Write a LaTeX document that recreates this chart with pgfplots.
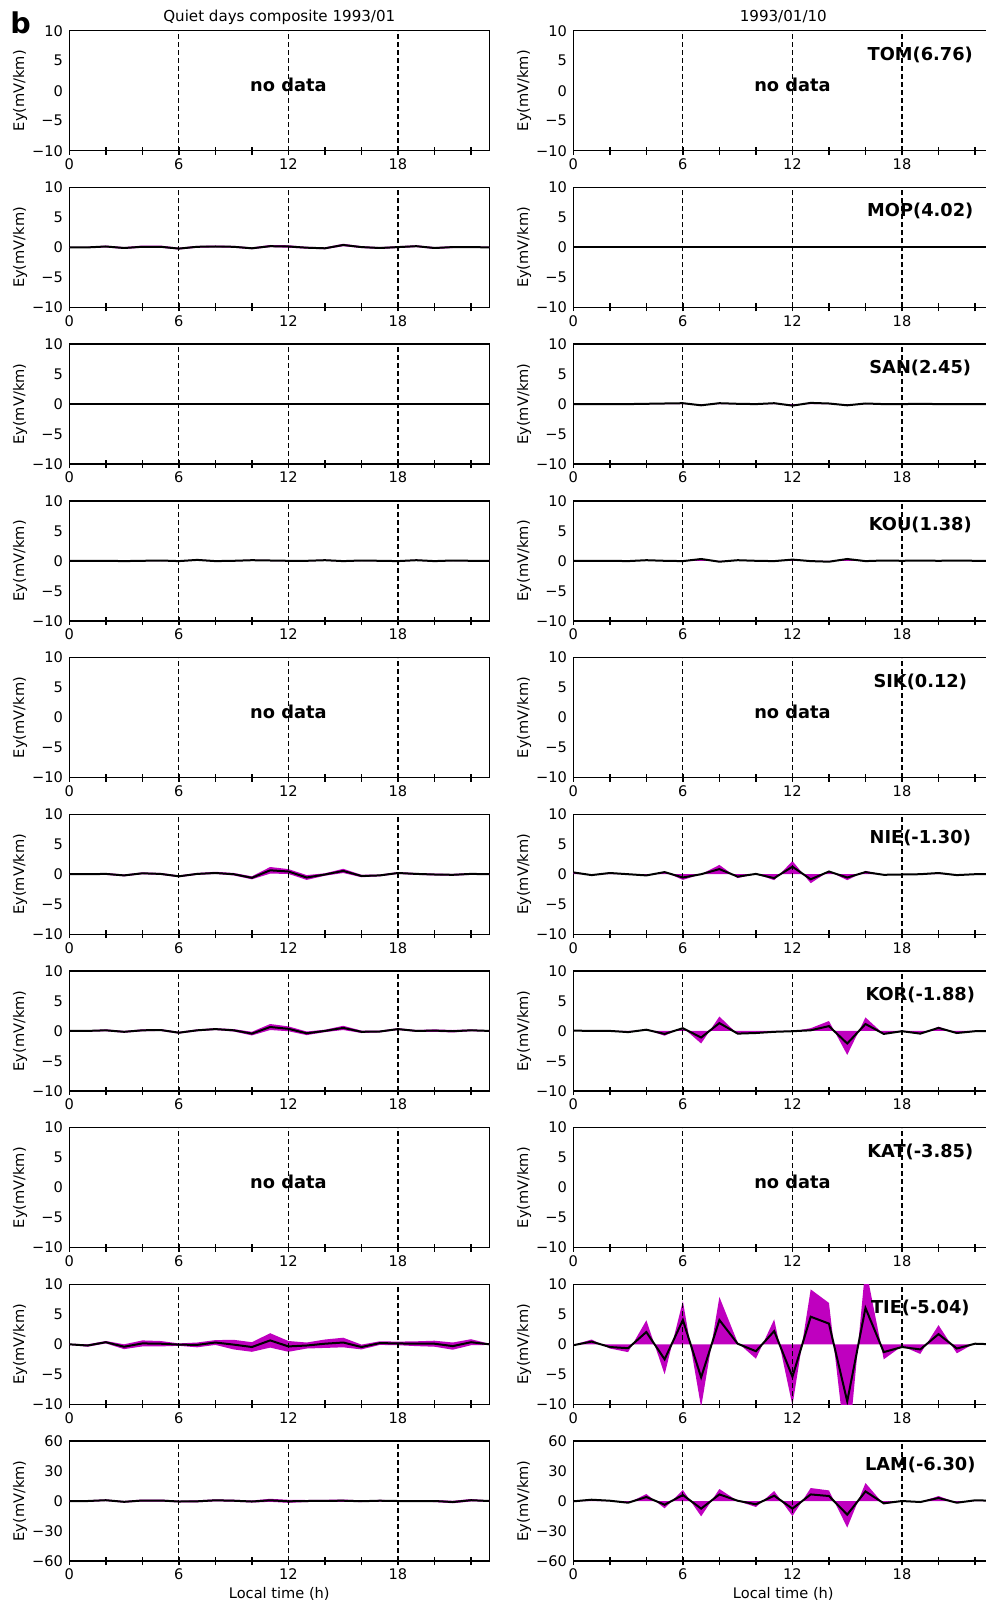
\documentclass[border=0pt]{standalone}
\usepackage{fontspec}
\setmainfont{DejaVu Sans}
\usepackage{pgfplots}
\pgfplotsset{compat=1.18}
\usepackage{pgfplotstable}
\usepgfplotslibrary{fillbetween}
\definecolor{mag}{RGB}{191,0,191}
\newcommand{\tfs}{\fontsize{7.3}{8.5}\selectfont}
\newcommand{\ttls}{\fontsize{7.55}{8.5}\selectfont}
\newcommand{\bfs}{\bfseries\fontsize{8.9}{10}\selectfont}
\tikzset{vline/.style={black, line width=0.6pt, dash pattern=on 2.5pt off 1.5pt}}

% ---------- left column: composite (h, mean, lower, upper) ----------
\pgfplotstableread{
h m lo hi
0 0 -0.1 0.1
1 0 -0.1 0.1
2 0.15 0.0 0.3
3 -0.1 -0.25 0.05
4 0.1 -0.05 0.3
5 0.1 -0.05 0.3
6 -0.2 -0.35 -0.05
7 0.1 -0.05 0.25
8 0.15 0.0 0.3
9 0.1 -0.05 0.25
10 -0.15 -0.3 0.0
11 0.2 0.05 0.4
12 0.15 -0.05 0.35
13 -0.05 -0.2 0.1
14 -0.15 -0.3 0.0
15 0.4 0.2 0.6
16 0.05 -0.1 0.2
17 -0.1 -0.25 0.05
18 0.05 -0.1 0.2
19 0.2 0.05 0.35
20 -0.1 -0.25 0.05
21 0.05 -0.1 0.2
22 0.05 -0.1 0.2
23 0 -0.1 0.1
}\LMOP
\pgfplotstableread{
h m lo hi
0 0 0 0
1 0 0 0
2 0 0 0
3 0 0 0
4 0 0 0
5 0 0 0
6 0 0 0
7 0 0 0
8 0 0 0
9 0 0 0
10 0 0 0
11 0 0 0
12 0 0 0
13 0 0 0
14 0 0 0
15 0 0 0
16 0 0 0
17 0 0 0
18 0 0 0
19 0 0 0
20 0 0 0
21 0 0 0
22 0 0 0
23 0 0 0
}\LSAN
\pgfplotstableread{
h m lo hi
0 0 -0.08 0.08
1 0 -0.08 0.08
2 0 -0.08 0.08
3 -0.05 -0.13 0.03
4 0 -0.08 0.08
5 0.05 -0.03 0.13
6 -0.05 -0.13 0.03
7 0.15 0.07 0.23
8 -0.05 -0.13 0.03
9 0 -0.08 0.08
10 0.1 0.02 0.18
11 0.05 -0.03 0.13
12 0 -0.08 0.08
13 0 -0.08 0.08
14 0.1 0.02 0.18
15 -0.05 -0.13 0.03
16 0.05 -0.03 0.13
17 0 -0.08 0.08
18 -0.05 -0.13 0.03
19 0.1 0.02 0.18
20 -0.05 -0.13 0.03
21 0.05 -0.03 0.13
22 0 -0.08 0.08
23 0 -0.08 0.08
}\LKOU
\pgfplotstableread{
h m lo hi
0 0 -0.1 0.1
1 0 -0.1 0.1
2 0.05 -0.1 0.2
3 -0.2 -0.35 -0.05
4 0.15 0 0.3
5 0.05 -0.1 0.2
6 -0.35 -0.5 -0.2
7 0.05 -0.1 0.2
8 0.2 0.05 0.4
9 0 -0.2 0.2
10 -0.6 -0.85 -0.35
11 0.65 0.1 1.2
12 0.45 0.05 0.85
13 -0.55 -0.95 -0.15
14 -0.05 -0.25 0.15
15 0.55 0.2 0.9
16 -0.3 -0.5 -0.1
17 -0.2 -0.35 -0.05
18 0.2 0.05 0.35
19 0.05 -0.1 0.2
20 -0.05 -0.2 0.1
21 -0.1 -0.25 0.05
22 0.05 -0.1 0.2
23 0 -0.1 0.1
}\LNIE
\pgfplotstableread{
h m lo hi
0 0 -0.1 0.1
1 0 -0.1 0.1
2 0.1 -0.05 0.25
3 -0.15 -0.3 0
4 0.1 -0.05 0.25
5 0.15 0 0.3
6 -0.3 -0.45 -0.15
7 0.1 -0.05 0.25
8 0.3 0.15 0.45
9 0.1 -0.1 0.3
10 -0.45 -0.75 -0.15
11 0.65 0.15 1.15
12 0.35 -0.05 0.75
13 -0.4 -0.7 -0.1
14 0 -0.2 0.2
15 0.5 0.15 0.85
16 -0.15 -0.35 0.05
17 -0.1 -0.25 0.05
18 0.3 0.15 0.45
19 0 -0.15 0.15
20 0.05 -0.15 0.25
21 -0.05 -0.25 0.15
22 0.1 -0.05 0.25
23 0 -0.1 0.1
}\LKOR
\pgfplotstableread{
h m lo hi
0 0 -0.1 0.1
1 -0.2 -0.4 0
2 0.35 0.15 0.55
3 -0.4 -0.8 0
4 0.15 -0.35 0.65
5 0.1 -0.35 0.55
6 -0.05 -0.25 0.15
7 -0.1 -0.5 0.3
8 0.3 -0.1 0.7
9 -0.05 -0.85 0.75
10 -0.45 -1.25 0.35
11 0.65 -0.55 1.85
12 -0.35 -1.25 0.55
13 -0.2 -0.7 0.3
14 0.1 -0.6 0.8
15 0.3 -0.5 1.1
16 -0.45 -0.85 -0.05
17 0.2 -0.1 0.5
18 0.15 -0.15 0.45
19 0.1 -0.3 0.5
20 0.1 -0.4 0.6
21 -0.3 -0.9 0.3
22 0.35 -0.15 0.85
23 0 -0.1 0.1
}\LTIE
\pgfplotstableread{
h m lo hi
0 0 -0.8 0.8
1 0 -0.8 0.8
2 0.8 0 1.6
3 -0.8 -1.6 0
4 0.5 -0.5 1.5
5 0.5 -0.5 1.5
6 -0.5 -1.3 0.3
7 -0.3 -1.3 0.7
8 0.7 -0.3 1.7
9 0.3 -0.7 1.3
10 -0.5 -1.5 0.5
11 0.7 -0.8 2.2
12 -0.3 -1.8 1.2
13 0 -1 1
14 0.2 -0.8 1.2
15 0.3 -0.9 1.5
16 -0.2 -1 0.6
17 0.3 -0.5 1.1
18 0 -0.8 0.8
19 0 -0.8 0.8
20 0 -1 1
21 -1 -2.2 0.2
22 0.8 -0.4 2
23 0 -0.6 0.6
}\LLAM

% ---------- right column: 1993/01/10 (h, Ey line, magenta fill) ----------
\pgfplotstableread{
h e f
0 0 0
1 0 0
2 0 0
3 0 0
4 0 0
5 0 0
6 0 0
7 0 0
8 0 0
9 0 0
10 0 0
11 0 0
12 0 0
13 0 0
14 0 0
15 0 0
16 0 0
17 0 0
18 0 0
19 0 0
20 0 0
21 0 0
22 0 0
23 0 0
}\RMOP
\pgfplotstableread{
h e f
0 0 0
1 0 0
2 0 0
3 0 0
4 0.05 0.05
5 0.1 0.1
6 0.15 0.2
7 -0.2 -0.25
8 0.15 0.2
9 0.05 0.05
10 0 0
11 0.15 0.2
12 -0.25 -0.35
13 0.2 0.3
14 0.1 0.1
15 -0.2 -0.25
16 0.1 0.15
17 0 0
18 0 0
19 0.05 0.05
20 0 0
21 0 0
22 0 0
23 0 0
}\RSAN
\pgfplotstableread{
h e f
0 0 0
1 0 0
2 0 0
3 -0.05 -0.05
4 0.1 0.1
5 0 0
6 -0.05 -0.05
7 0.3 0.35
8 -0.15 -0.2
9 0.1 0.1
10 0 0
11 -0.05 -0.05
12 0.2 0.25
13 -0.05 -0.05
14 -0.15 -0.2
15 0.3 0.35
16 -0.05 -0.05
17 0.05 0.05
18 0 0
19 0.05 0.05
20 0 0
21 0.05 0.05
22 0 0
23 0 0
}\RKOU
\pgfplotstableread{
h e f
0 0.3 0.3
1 -0.15 -0.15
2 0.2 0.2
3 0 0
4 -0.2 -0.2
5 0.35 0.4
6 -0.55 -0.95
7 0 0
8 0.85 1.55
9 -0.4 -0.65
10 0.05 0.05
11 -0.65 -1.0
12 1.25 2.2
13 -0.85 -1.5
14 0.45 0.5
15 -0.55 -1.0
16 0.35 0.55
17 -0.1 -0.1
18 -0.05 -0.05
19 0 0
20 0.2 0.2
21 -0.15 -0.15
22 0 0
23 0.05 0.05
}\RNIE
\pgfplotstableread{
h e f
0 0.05 0.05
1 0 0
2 0 0
3 -0.2 -0.2
4 0.2 0.2
5 -0.5 -0.8
6 0.45 0.55
7 -1.1 -2.1
8 1.3 2.4
9 -0.45 -0.55
10 -0.35 -0.4
11 -0.15 -0.15
12 -0.05 -0.05
13 0.1 0.45
14 0.8 1.65
15 -2.1 -4.0
16 1.15 2.25
17 -0.5 -0.55
18 -0.05 -0.05
19 -0.45 -0.55
20 0.5 0.7
21 -0.35 -0.35
22 -0.05 -0.05
23 0 0
}\RKOR
\pgfplotstableread{
h e f
0 -0.15 -0.1
1 0.45 0.8
2 -0.45 -0.7
3 -0.65 -1.3
4 2.05 4.0
5 -2.5 -5.0
6 4.05 7.2
7 -5.5 -10.5
8 4.05 7.9
9 0.1 0.3
10 -1.15 -2.4
11 2.2 4.15
12 -5.4 -10.2
13 4.6 9.15
14 3.45 6.9
15 -9.5 -19.5
16 6.05 13
17 -1.3 -2.5
18 -0.45 -0.3
19 -0.85 -1.6
20 1.7 3.2
21 -0.7 -1.5
22 0.1 0.2
23 0 0
}\RTIE
\pgfplotstableread{
h e f
0 -0.3 -0.3
1 1.3 1.5
2 0.3 0.5
3 -1.7 -2
4 4.0 7
5 -3.7 -7.3
6 6.0 11
7 -7.6 -15.3
8 6.6 12
9 0.3 0
10 -3.3 -6
11 5.3 10
12 -7.6 -15
13 6.6 13
14 5.0 10.6
15 -13.6 -26.6
16 9.6 18
17 -2.3 -3.3
18 0 0
19 -1.0 -1
20 3.0 5
21 -1.7 -1.7
22 0.7 0.5
23 0.3 0.3
}\RLAM

\pgfplotsset{
  panel/.style={
    scale only axis, width=210pt, height=60pt,
    anchor=north west,
    xmin=0, xmax=23, ymin=-10, ymax=10,
    xtick={0,2,...,22}, xticklabels={0,,,6,,,12,,,18,,},
    ytick={-10,-5,0,5,10}, yticklabels={−10,−5,0,5,10},
    xtick pos=bottom, ytick pos=left,
    xtick align=center, major tick length=4pt,
    ytick style={draw=none},
    xtick style={black, line width=0.7pt},
    axis line style={black, line width=0.7pt},
    tick label style={font=\tfs, inner sep=0pt},
    xticklabel style={anchor=north, yshift=-1.8pt},
    yticklabel style={anchor=east, xshift=-3pt},
    ylabel={Ey(mV/km)},
    every axis y label/.style={at={(axis description cs:-0.117,0.5)}, rotate=90, anchor=center, font=\tfs},
    every axis x label/.style={at={(axis description cs:0.5,0)}, anchor=center, yshift=-16.4pt, font=\tfs},
    every axis title/.style={at={(axis description cs:0.5,1)}, anchor=center, yshift=6.85pt, font=\ttls},
  },
  big/.style={ymin=-60, ymax=60, ytick={-60,-30,0,30,60}, yticklabels={−60,−30,0,30,60}},
  dline/.style={black, line width=1pt},
}

\newcommand{\vlns}{%
  \draw[vline] ({axis cs:6,0}|-{rel axis cs:0,0}) -- ({axis cs:6,0}|-{rel axis cs:0,1});
  \draw[vline] ({axis cs:12,0}|-{rel axis cs:0,0}) -- ({axis cs:12,0}|-{rel axis cs:0,1});
  \draw[vline] ({axis cs:18,0}|-{rel axis cs:0,0}) -- ({axis cs:18,0}|-{rel axis cs:0,1});
}
% left composite panel
\newcommand{\bandp}[1]{%
  \addplot[name path=up, draw=none, forget plot] table[x=h,y=hi]{#1};
  \addplot[name path=dn, draw=none, forget plot] table[x=h,y=lo]{#1};
  \addplot[fill=mag, draw=none] fill between[of=up and dn];
  \addplot[dline] table[x=h,y=m]{#1};
}
% right day panel
\newcommand{\dayp}[1]{%
  \addplot[fill=mag, draw=none] table[x=h,y=f]{#1} \closedcycle;
  \addplot[dline] table[x=h,y=e]{#1};
}
\newcommand{\nodatap}{\node[font=\bfs] at (axis cs:12,1) {no data};}
\newcommand{\stnp}[1]{\node[font=\bfs] at (axis cs:19,6) {#1};}

\begin{document}
\begin{tikzpicture}
% row 0: TOM
\begin{axis}[panel, at={(34.65pt,-15.35pt)}, title={Quiet days composite 1993/01}]
  \nodatap \vlns
\end{axis}
\begin{axis}[panel, at={(286.65pt,-15.35pt)}, title={1993/01/10}]
  \nodatap \stnp{TOM(6.76)} \vlns
\end{axis}
% row 1: MOP
\begin{axis}[panel, at={(34.65pt,-93.70pt)}]
  \bandp{\LMOP} \vlns
\end{axis}
\begin{axis}[panel, at={(286.65pt,-93.70pt)}]
  \dayp{\RMOP} \stnp{MOP(4.02)} \vlns
\end{axis}
% row 2: SAN
\begin{axis}[panel, at={(34.65pt,-172.05pt)}]
  \addplot[dline] table[x=h,y=m]{\LSAN}; \vlns
\end{axis}
\begin{axis}[panel, at={(286.65pt,-172.05pt)}]
  \dayp{\RSAN} \stnp{SAN(2.45)} \vlns
\end{axis}
% row 3: KOU
\begin{axis}[panel, at={(34.65pt,-250.40pt)}]
  \bandp{\LKOU} \vlns
\end{axis}
\begin{axis}[panel, at={(286.65pt,-250.40pt)}]
  \dayp{\RKOU} \stnp{KOU(1.38)} \vlns
\end{axis}
% row 4: SIK
\begin{axis}[panel, at={(34.65pt,-328.75pt)}]
  \nodatap \vlns
\end{axis}
\begin{axis}[panel, at={(286.65pt,-328.75pt)}]
  \nodatap \stnp{SIK(0.12)} \vlns
\end{axis}
% row 5: NIE
\begin{axis}[panel, at={(34.65pt,-407.10pt)}]
  \bandp{\LNIE} \vlns
\end{axis}
\begin{axis}[panel, at={(286.65pt,-407.10pt)}]
  \dayp{\RNIE} \stnp{NIE(-1.30)} \vlns
\end{axis}
% row 6: KOR
\begin{axis}[panel, at={(34.65pt,-485.45pt)}]
  \bandp{\LKOR} \vlns
\end{axis}
\begin{axis}[panel, at={(286.65pt,-485.45pt)}]
  \dayp{\RKOR} \stnp{KOR(-1.88)} \vlns
\end{axis}
% row 7: KAT
\begin{axis}[panel, at={(34.65pt,-563.80pt)}]
  \nodatap \vlns
\end{axis}
\begin{axis}[panel, at={(286.65pt,-563.80pt)}]
  \nodatap \stnp{KAT(-3.85)} \vlns
\end{axis}
% row 8: TIE
\begin{axis}[panel, at={(34.65pt,-642.15pt)}]
  \bandp{\LTIE} \vlns
\end{axis}
\begin{axis}[panel, at={(286.65pt,-642.15pt)}]
  \dayp{\RTIE} \stnp{TIE(-5.04)} \vlns
\end{axis}
% row 9: LAM
\begin{axis}[panel, big, at={(34.65pt,-720.50pt)}, xlabel={Local time (h)}]
  \bandp{\LLAM} \vlns
\end{axis}
\begin{axis}[panel, big, at={(286.65pt,-720.50pt)}, xlabel={Local time (h)}]
  \dayp{\RLAM} \node[font=\bfs] at (axis cs:19,36) {LAM(-6.30)}; \vlns
\end{axis}
\node[font=\bfseries\fontsize{14.3}{16}\selectfont] at (10.25pt,-11.25pt) {b};
\pgfresetboundingbox
\path[use as bounding box] (0,0) rectangle (492.5pt,-802pt);
\end{tikzpicture}
\end{document}
